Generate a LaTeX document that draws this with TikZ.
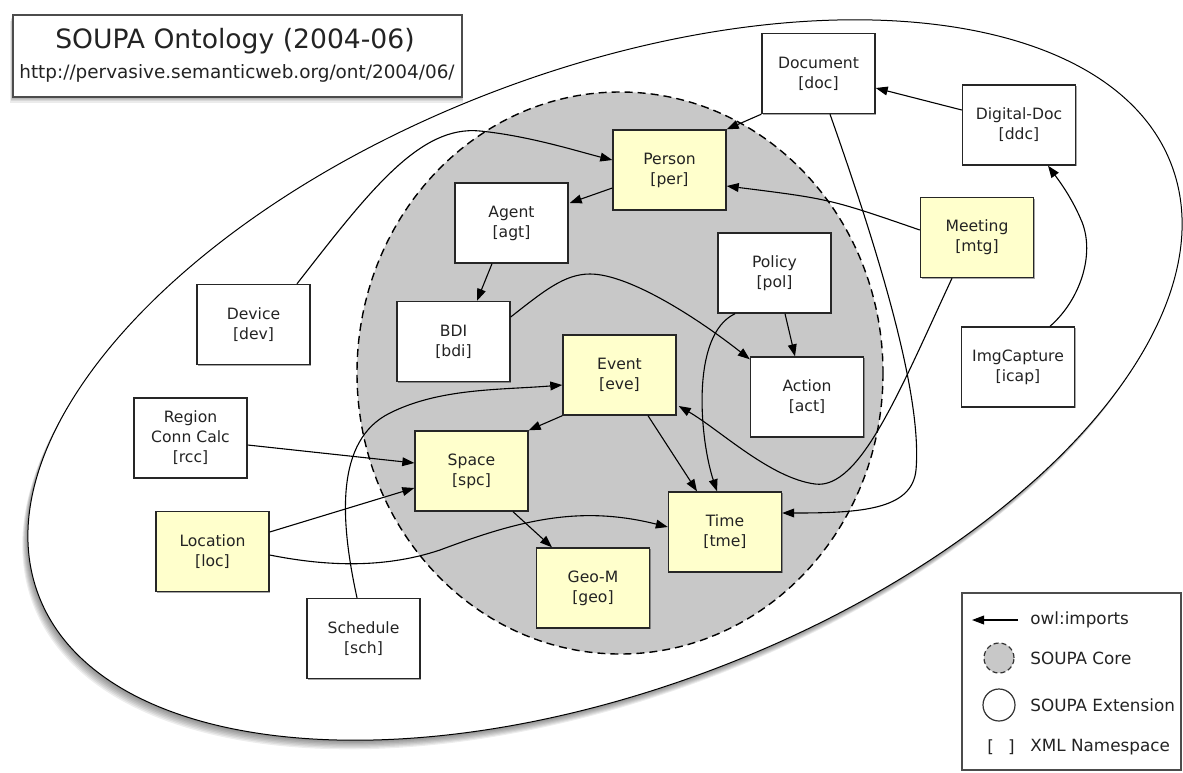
\documentclass[tikz,border=0pt]{standalone}
\usepackage{fontspec}
\setmainfont{DejaVu Sans}
\usetikzlibrary{arrows.meta,calc,shadows}
\definecolor{coregray}{RGB}{200,200,200}
\definecolor{boxyellow}{RGB}{255,255,204}
\definecolor{txtgray}{RGB}{35,35,35}
\begin{document}
\begin{tikzpicture}[x=0.5pt,y=-0.5pt,
  box/.style={draw=black!85, line width=0.7pt, fill=white, minimum width=56.5pt, minimum height=40pt, inner sep=1pt, align=center, font=\fontsize{7.8}{10}\selectfont, text=txtgray, drop shadow={shadow xshift=0.6pt, shadow yshift=-0.6pt, opacity=0.35, fill=black}},
  corebox/.style={box, fill=boxyellow},
  imp/.style={draw=black, line width=0.55pt, -{Triangle[length=6pt,width=4.4pt]}},
  legtext/.style={anchor=west, inner sep=0pt, font=\fontsize{8.4}{10}\selectfont, text=txtgray},
  ]
\useasboundingbox (0,0) rectangle (1183,772);
\clip (0,0) rectangle (1183,772);
\fill[white] (0,0) rectangle (1183,772);

% outer (extension) ellipse with soft shadow
\foreach \k in {1,...,7}{
  \fill[black,opacity=0.07,shift={(605-0.8*\k,380+1.3*\k)},rotate=20.8] (0,0) ellipse [x radius=606,y radius=309];
}
\draw[fill=white,line width=0.5pt,shift={(605,380)},rotate=20.8] (0,0) ellipse [x radius=606,y radius=309];

% core ellipse
\draw[fill=coregray, dash pattern=on 4pt off 2.5pt, line width=0.7pt] (620,373) ellipse [x radius=263, y radius=281];

% title box
\foreach \k in {1,...,5}{
  \fill[black,opacity=0.08] (13-0.6*\k,15+1.1*\k) rectangle (462+0.2*\k,97+1.1*\k);
}
\node[draw=black!70, line width=0.7pt, fill=white, minimum width=224.5pt, minimum height=41pt, inner sep=0pt] (title) at (237.5,56) {};
\node[text=txtgray, inner sep=0pt] (ttl) at (235,41) {\fontsize{13.3}{15}\selectfont SOUPA Ontology (2004-06)};
\node[text=txtgray, inner sep=0pt] (url) at (237,73) {\fontsize{9.2}{11}\selectfont http://pervasive.semanticweb.org/ont/2004/06/};

% boxes
\node[box] (doc) at (818.5,73.5) {Document\\{[doc]}};
\node[box] (ddc) at (1019,125) {Digital-Doc\\{[ddc]}};
\node[corebox] (per) at (669.5,170) {Person\\{[per]}};
\node[corebox] (mtg) at (977,237.5) {Meeting\\{[mtg]}};
\node[box] (pol) at (774.5,273) {Policy\\{[pol]}};
\node[box] (agt) at (511.5,223) {Agent\\{[agt]}};
\node[box] (dev) at (253.5,324.5) {Device\\{[dev]}};
\node[box] (bdi) at (453.5,341.5) {BDI\\{[bdi]}};
\node[corebox] (eve) at (619.5,375) {Event\\{[eve]}};
\node[box] (act) at (807,397) {Action\\{[act]}};
\node[box] (icap) at (1018,367) {ImgCapture\\{[icap]}};
\node[box] (rcc) at (190.5,438) {Region\\Conn Calc\\{[rcc]}};
\node[corebox] (spc) at (471.5,471) {Space\\{[spc]}};
\node[corebox] (loc) at (212.5,551.5) {Location\\{[loc]}};
\node[corebox] (tme) at (725,532) {Time\\{[tme]}};
\node[corebox] (geo) at (593,588) {Geo-M\\{[geo]}};
\node[box] (sch) at (363.5,638.5) {Schedule\\{[sch]}};

% connectors (owl:imports)
\draw[imp] (doc.south west) -- (per.north east);
\draw[imp] ($(ddc.west)+(0,-15)$) -- ($(doc.east)+(0,14.5)$);
\draw[imp] ($(mtg.west)+(0,-7.5)$) .. controls (830,199) .. ($(per.east)+(0,16)$);
\draw[imp] ($(doc.south)+(11.5,0)$) .. controls (885,270) and (922,400) .. (916,470) .. controls (912,510) and (860,513) .. ($(tme.east)+(0,-19)$);
\draw[imp] ($(mtg.south)+(-25,0)$) .. controls (900,390) and (860,490) .. (815,484) .. controls (770,478) and (720,430) .. ($(eve.east)+(2,31)$);
\draw[imp] ($(per.west)+(0,18)$) -- ($(agt.east)+(1,-20)$);
\draw[imp] ($(dev.north)+(43.5,0)$) .. controls (370,190) and (420,125) .. (480,131) .. controls (530,136) and (580,152) .. ($(per.west)+(0,-10)$);
\draw[imp] ($(agt.south)+(-19.5,0)$) -- ($(bdi.north)+(23.5,0)$);
\draw[imp] ($(bdi.east)+(0,-24.5)$) .. controls (545,290) and (565,274) .. (590,274) .. controls (630,274) and (700,320) .. ($(act.north west)+(0,3)$);
\draw[imp] ($(pol.south)+(10.5,0)$) -- ($(act.north)+(-12,0)$);
\draw[imp] ($(pol.south)+(-39.5,0)$) .. controls (690,335) and (700,440) .. ($(tme.north)+(-8,0)$);
\draw[imp] ($(eve.south)+(28.5,0)$) -- ($(tme.north)+(-28,0)$);
\draw[imp] (eve.south west) -- (spc.north east);
\draw[imp] ($(sch.north)+(-6.5,0)$) .. controls (340,520) and (335,440) .. (390,413) .. controls (440,388) and (500,390) .. ($(eve.west)+(0,10)$);
\draw[imp] ($(rcc.east)+(0,7)$) -- ($(spc.west)+(0,-8)$);
\draw[imp] ($(loc.east)+(0,-19.5)$) -- ($(spc.west)+(0,17)$);
\draw[imp] ($(loc.east)+(0,3.5)$) .. controls (320,565) and (380,570) .. (440,550) .. controls (520,520) and (580,505) .. ($(tme.west)+(0,-5)$);
\draw[imp] ($(spc.south)+(41.5,0)$) -- ($(geo.north)+(-41,0)$);
\draw[imp] ($(icap.north)+(32,0)$) .. controls (1080,300) and (1095,255) .. (1082,222) .. controls (1072,198) and (1060,182) .. ($(ddc.south)+(29,0)$);

% legend
\node[draw=black!70, line width=0.7pt, fill=white, minimum width=109.5pt, minimum height=88.5pt, inner sep=0pt] (legend) at (1071.5,681.5) {};
\coordinate (lga) at (1018,620);
\coordinate (lgb) at (972,620);
\draw[imp] (lga) -- (lgb);
\node[legtext] (l1) at (1030,620) {owl:imports};
\node[circle, draw=black!80, line width=0.6pt, dash pattern=on 2.5pt off 1.5pt, fill=coregray, minimum size=15pt, inner sep=0pt] (lc1) at (999,658) {};
\node[legtext] (l2) at (1030,658) {SOUPA Core};
\node[circle, draw=black!80, line width=0.6pt, fill=white, minimum size=16pt, inner sep=0pt] (lc2) at (999,705) {};
\node[legtext] (l3) at (1030,705) {SOUPA Extension};
\node[inner sep=0pt, font=\fontsize{8.4}{10}\selectfont, text=txtgray] (lb) at (1001,747) {[\hspace{7pt}]};
\node[legtext] (l4) at (1030,747) {XML Namespace};
\end{tikzpicture}
\end{document}
